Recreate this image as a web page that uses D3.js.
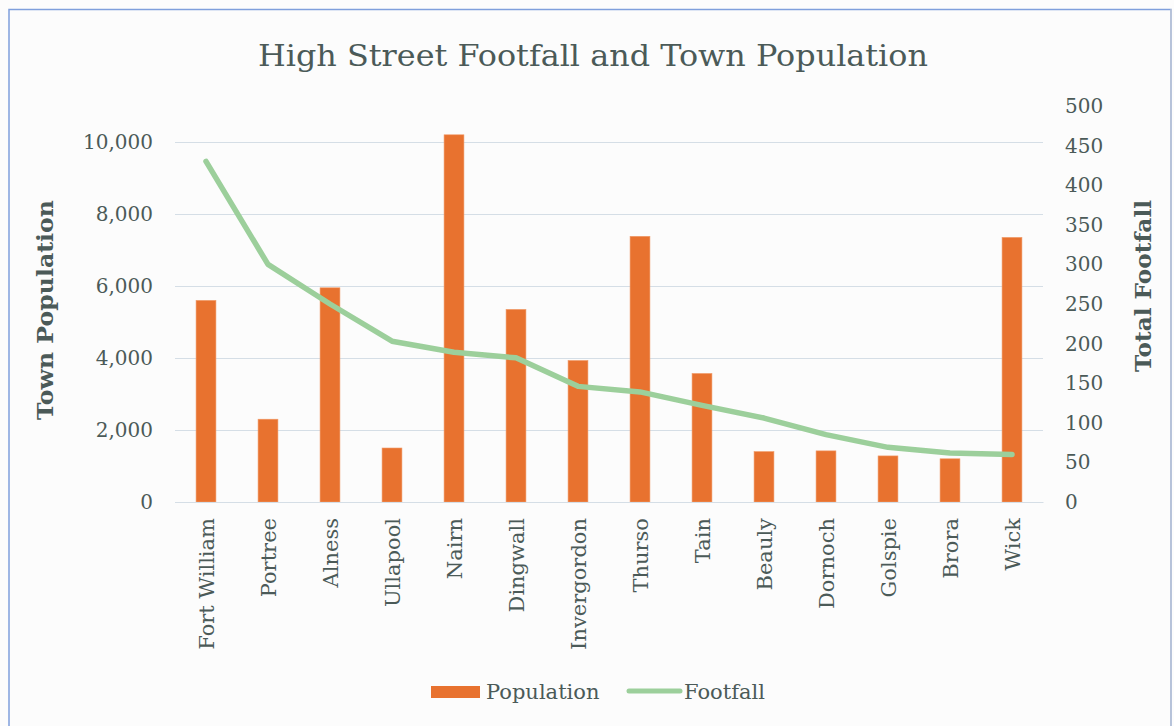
<!DOCTYPE html>
<html><head><meta charset="utf-8">
<script src="https://cdn.jsdelivr.net/npm/d3@7"></script>
<style>
html,body{margin:0;padding:0;background:#fff;}
svg{display:block;}
text{font-family:"DejaVu Serif",serif;fill:#4b5a58;}
</style></head>
<body>
<svg id="chart" width="1174" height="726"></svg>
<script>
const towns = ["Fort William","Portree","Alness","Ullapool","Nairn","Dingwall","Invergordon","Thurso","Tain","Beauly","Dornoch","Golspie","Brora","Wick"];
const population = [5600,2300,5950,1500,10200,5350,3930,7380,3570,1400,1420,1280,1200,7350];
const footfall = [430,300,250,203,189,182,146,139,122,106,85,69,62,60];
const popTicks = [0,2000,4000,6000,8000,10000];
const footTicks = [0,50,100,150,200,250,300,350,400,450,500];

const svg = d3.select("#chart");
const W = 1174, H = 726;
const m = {left:175, right:1043, top:106, bottom:502};

svg.append("rect").attr("x",0).attr("y",0).attr("width",W).attr("height",H).attr("fill","#fcfcfc");
// frame
svg.append("rect").attr("x",9).attr("y",9.5).attr("width",1162).attr("height",730)
  .attr("fill","none").attr("stroke","#7f9fdc").attr("stroke-width",1.5);
svg.append("line").attr("x1",1171).attr("x2",1171).attr("y1",9).attr("y2",726).attr("stroke","#cfcfcf").attr("stroke-width",1);

const x = d3.scaleBand().domain(towns).range([m.left,m.right]).paddingInner(0.68).paddingOuter(0.34);
const xc = d3.scalePoint().domain(towns).range([m.left,m.right]).padding(0.5);
const yL = d3.scaleLinear().domain([0,11000]).range([m.bottom,m.top]);
const yR = d3.scaleLinear().domain([0,500]).range([m.bottom,m.top]);

// gridlines
const grid = svg.append("g").attr("class","grid")
  .attr("transform",`translate(${m.left},0)`)
  .call(d3.axisLeft(yL).tickValues(popTicks).tickSize(-(m.right-m.left)).tickFormat(""));
grid.select(".domain").remove();
grid.selectAll("line").attr("stroke","#d5dee6").attr("stroke-width",1.2);

// bars
svg.append("g").selectAll("rect").data(towns).join("rect")
  .attr("x",d=>x(d)).attr("width",x.bandwidth())
  .attr("y",(d,i)=>yL(population[i])).attr("height",(d,i)=>yL(0)-yL(population[i]))
  .attr("fill","#e8722f").attr("stroke","#f19a68").attr("stroke-width",0.6);

// line
const line = d3.line().x((d,i)=>xc(towns[i])).y(d=>yR(d));
svg.append("path").datum(footfall).attr("d",line)
  .attr("fill","none").attr("stroke","#9ccf9b").attr("stroke-width",5.5)
  .attr("stroke-linecap","round").attr("stroke-linejoin","round");

// left axis
const aL = svg.append("g").attr("transform",`translate(${m.left},0)`)
  .call(d3.axisLeft(yL).tickValues(popTicks).tickSize(0).tickPadding(22).tickFormat(d3.format(",")));
aL.select(".domain").remove();
aL.selectAll("text").attr("font-size",20).attr("font-family","DejaVu Serif").attr("fill","#4b5a58");

// right axis
const aR = svg.append("g").attr("transform",`translate(${m.right},0)`)
  .call(d3.axisRight(yR).tickValues(footTicks).tickSize(0).tickPadding(22));
aR.select(".domain").remove();
aR.selectAll("text").attr("font-size",20).attr("font-family","DejaVu Serif").attr("fill","#4b5a58");

// x axis
const aX = svg.append("g").attr("transform",`translate(0,${m.bottom})`)
  .call(d3.axisBottom(xc).tickSize(0).tickPadding(0));
aX.select(".domain").attr("stroke","#d5dee6").attr("stroke-width",1.2);
aX.selectAll("text").attr("font-size",21).attr("font-family","DejaVu Serif").attr("fill","#4b5a58")
  .attr("transform","rotate(-90)").attr("text-anchor","end").attr("dx","-16").attr("dy","0.35em").attr("y",0);

// title
svg.append("text").attr("x",593).attr("y",66).attr("text-anchor","middle")
  .attr("font-size",29).attr("textLength",670).attr("lengthAdjust","spacingAndGlyphs").text("High Street Footfall and Town Population");

// axis titles
svg.append("text").attr("transform","translate(53,310) rotate(-90)").attr("text-anchor","middle")
  .attr("font-size",22).attr("font-weight","bold").attr("textLength",220).attr("lengthAdjust","spacingAndGlyphs").text("Town Population");
svg.append("text").attr("transform","translate(1151,286) rotate(-90)").attr("text-anchor","middle")
  .attr("font-size",22).attr("font-weight","bold").attr("textLength",172).attr("lengthAdjust","spacingAndGlyphs").text("Total Footfall");

// legend
const lg = svg.append("g");
lg.append("rect").attr("x",431).attr("y",686).attr("width",49).attr("height",12).attr("fill","#e8722f");
lg.append("text").attr("x",486).attr("y",692).attr("dy","0.35em").attr("font-size",21).text("Population");
lg.append("line").attr("x1",629).attr("x2",680).attr("y1",691).attr("y2",691)
  .attr("stroke","#9ccf9b").attr("stroke-width",5).attr("stroke-linecap","round");
lg.append("text").attr("x",684).attr("y",692).attr("dy","0.35em").attr("font-size",21).text("Footfall");
</script>
</body></html>
